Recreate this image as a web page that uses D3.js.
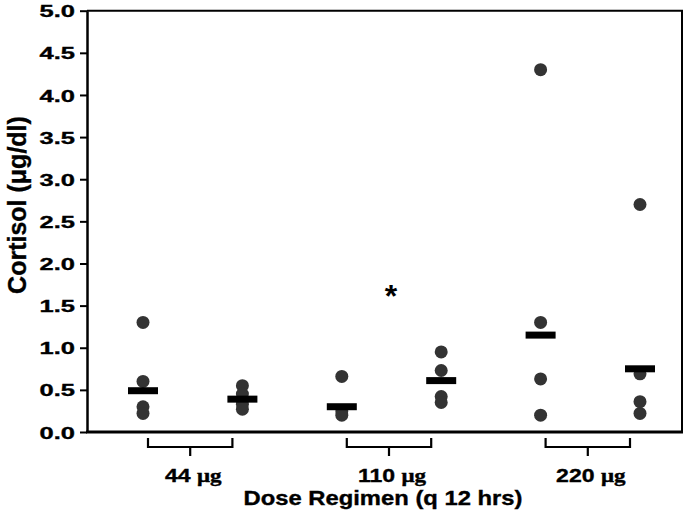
<!DOCTYPE html>
<html><head><meta charset="utf-8">
<script src="https://cdn.jsdelivr.net/npm/d3@7"></script>
<style>body{margin:0;background:#fff}svg{display:block}</style>
</head><body>
<svg id="c" width="688" height="526"></svg>
<script>
const subgroups = ["44a","44b","110a","110b","220a","220b"];
const groupLabels = ["44","110","220"];
const groupMembers = [["44a","44b"],["110a","110b"],["220a","220b"]];
const pts44a = [1.30, 0.60, 0.30, 0.22];
const pts44b = [0.55, 0.45, 0.33, 0.27];
const pts110a = [0.66, 0.25, 0.20];
const pts110b = [0.95, 0.73, 0.42, 0.35];
const pts220a = [4.30, 1.30, 0.63, 0.20];
const pts220b = [2.70, 0.69, 0.36, 0.22];
const medians = [0.49, 0.39, 0.30, 0.61, 1.15, 0.75];
const yTicks = [0,0.5,1,1.5,2,2.5,3,3.5,4,4.5,5];
const sigMark = {value:1.7};

const points = [pts44a,pts44b,pts110a,pts110b,pts220a,pts220b];
const svg = d3.select("#c");
const L=87, R=682, T=10.7, B=432;
const y = d3.scaleLinear().domain([0,5]).range([B,T]);
const x = d3.scalePoint().domain(subgroups).range([143,640]);
const font = "'Liberation Sans', Arial, sans-serif";

function stext(px, py, sx, size, anchor){
  return svg.append("g").attr("transform",`translate(${px},${py}) scale(${sx},1)`)
    .append("text").attr("text-anchor",anchor).attr("font-family",font)
    .attr("font-weight","bold").attr("font-size",size).attr("fill","#000")
    .attr("stroke","#000").attr("stroke-width",0.35);
}

// box top/right
svg.append("path").attr("d",`M${L},${T}H${R}V${B}`).attr("fill","none").attr("stroke","#000").attr("stroke-width",2);
// y axis
const ya = svg.append("g").attr("transform",`translate(${L},0)`)
  .call(d3.axisLeft(y).tickValues(yTicks).tickFormat(d3.format(".1f")).tickSize(7).tickSizeOuter(0));
ya.select(".domain").attr("stroke-width",2.5);
ya.selectAll(".tick line").attr("stroke-width",2);
ya.selectAll(".tick text").remove();
ya.selectAll(".tick").each(function(d){
  const g = d3.select(this).append("g").attr("transform","translate(-12,0) scale(1.5,1)");
  g.append("text").attr("text-anchor","end").attr("dy","0.36em").attr("font-family",font)
    .attr("font-weight","bold").attr("font-size",17).attr("fill","#000")
    .attr("stroke","#000").attr("stroke-width",0.35).text(d3.format(".1f")(d));
});
// bottom axis line
svg.append("line").attr("x1",L-1).attr("x2",R+1).attr("y1",B).attr("y2",B).attr("stroke","#000").attr("stroke-width",3);

// dots
subgroups.forEach((s,i)=>{
  svg.append("g").selectAll("circle").data(points[i]).join("circle")
    .attr("cx",x(s)).attr("cy",d=>y(d)).attr("r",6.5).attr("fill","#333");
});
// medians
svg.append("g").selectAll("rect").data(subgroups).join("rect")
  .attr("x",s=>x(s)-15).attr("width",30)
  .attr("y",(s,i)=>y(medians[i])-3.5).attr("height",7).attr("fill","#000");

// brackets
groupMembers.forEach((g,i)=>{
  const a = x(g[0])+5, b = x(g[1])-10, c=(a+b)/2;
  svg.append("path").attr("d",`M${a},438V447H${b}V438M${c},447V456`)
    .attr("fill","none").attr("stroke","#000").attr("stroke-width",2.2);
  const t = stext(c+3, 482, 1.28, 18, "middle");
  t.append("tspan").text(groupLabels[i]+" ");
  t.append("tspan").attr("font-family","'Liberation Serif', 'Times New Roman', serif").text("μg");
});

// asterisk
svg.append("text").attr("x",(x("110a")+x("110b"))/2-0.5).attr("y",y(sigMark.value)+18)
  .attr("text-anchor","middle").attr("font-family",font).attr("font-weight","bold").attr("font-size",32).text("*");

// axis titles
stext(383, 505, 1.22, 19.5, "middle").text("Dose Regimen (q 12 hrs)");
svg.append("text").attr("transform","translate(26,205) rotate(-90)").attr("text-anchor","middle")
  .attr("font-family",font).attr("font-weight","bold").attr("font-size",25)
  .attr("stroke","#000").attr("stroke-width",0.35).text("Cortisol (μg/dl)");
</script>
</body></html>
